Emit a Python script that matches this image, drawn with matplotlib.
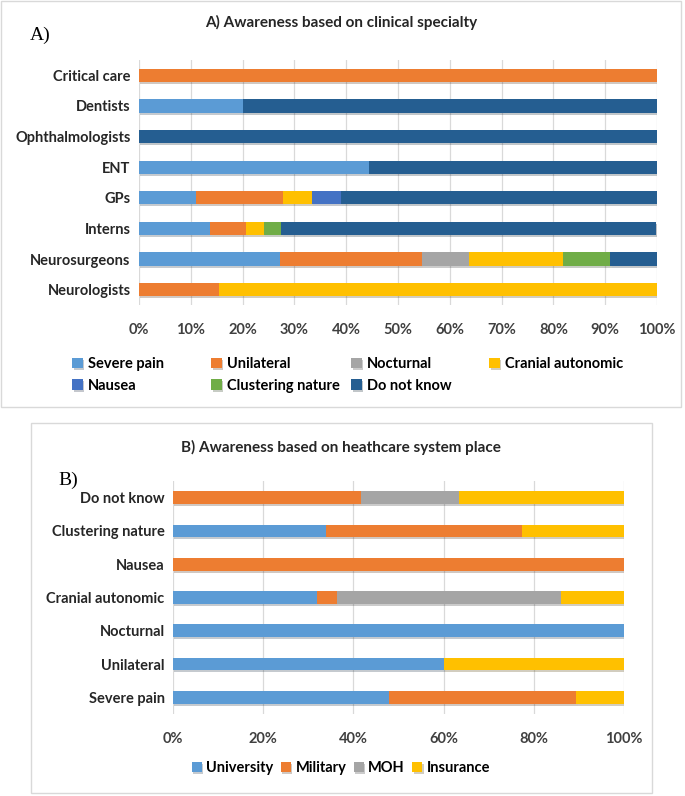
import matplotlib.pyplot as plt
import matplotlib.patheffects as pe
from matplotlib.patches import Rectangle
import numpy as np

plt.rcParams['font.family'] = ['Lato', 'DejaVu Sans']

# panel A data (bottom to top)
specialties = ['Neurologists', 'Neurosurgeons', 'Interns', 'GPs', 'ENT',
               'Ophthalmologists', 'Dentists', 'Critical care']
severe_pain = [0, 27.3, 13.8, 11.1, 44.4, 0, 20.0, 0]
unilateral = [15.4, 27.3, 6.9, 16.7, 0, 0, 0, 100]
nocturnal = [0, 9.1, 0, 0, 0, 0, 0, 0]
cranial = [84.6, 18.2, 3.4, 5.6, 0, 0, 0, 0]
nausea = [0, 0, 0, 5.6, 0, 0, 0, 0]
clustering = [0, 9.1, 3.4, 0, 0, 0, 0, 0]
do_not_know = [0, 9.1, 72.4, 61.1, 55.6, 100, 80.0, 0]

# panel B data (bottom to top)
features = ['Severe pain', 'Unilateral', 'Nocturnal', 'Cranial autonomic',
            'Nausea', 'Clustering nature', 'Do not know']
university = [48.0, 60.0, 100, 32.0, 0, 34.0, 0]
military = [41.4, 0, 0, 4.3, 100, 43.4, 41.7]
moh = [0, 0, 0, 49.7, 0, 0, 21.7]
insurance = [10.6, 40.0, 0, 14.0, 0, 22.6, 36.6]

series_a = [('Severe pain', severe_pain, '#5B9BD5'),
            ('Unilateral', unilateral, '#ED7D31'),
            ('Nocturnal', nocturnal, '#A5A5A5'),
            ('Cranial autonomic', cranial, '#FFC000'),
            ('Nausea', nausea, '#4472C4'),
            ('Clustering nature', clustering, '#70AD47'),
            ('Do not know', do_not_know, '#255E91')]
series_b = [('University', university, '#5B9BD5'),
            ('Military', military, '#ED7D31'),
            ('MOH', moh, '#A5A5A5'),
            ('Insurance', insurance, '#FFC000')]

W, H = 685, 796
fig = plt.figure(figsize=(W / 100, H / 100), dpi=100)
FS = 10.5

# panel borders
fig.patches.append(Rectangle((1 / W, 1 - 407 / H), 680 / W, 406 / H,
                             transform=fig.transFigure, fill=False,
                             ec='#D9D9D9', lw=1))
fig.patches.append(Rectangle((31 / W, 1 - 793 / H), 621 / W, 370 / H,
                             transform=fig.transFigure, fill=False,
                             ec='#D9D9D9', lw=1))

shadow = [pe.SimplePatchShadow(offset=(1, -1.5), alpha=0.25), pe.Normal()]


def stacked(ax, cats, series, height, step):
    y = np.arange(len(cats))
    left = np.zeros(len(cats))
    handles = []
    for name, vals, col in series:
        vals = np.array(vals, dtype=float)
        b = ax.barh(y, vals, left=left, height=height, color=col, label=name,
                    path_effects=shadow, zorder=3)
        handles.append(b)
        left += vals
    ax.set_yticks(y)
    ax.set_yticklabels(cats, fontsize=FS, fontweight='bold', color='#262626')
    ax.set_xlim(0, 100)
    ax.set_ylim(-0.5, len(cats) - 0.5)
    ticks = np.arange(0, 101, step)
    ax.set_xticks(ticks)
    ax.set_xticklabels([f'{t}%' for t in ticks], fontsize=FS,
                       fontweight='bold', color='#404040')
    ax.grid(axis='x', color='#D9D9D9', lw=0.9, zorder=0)
    for s in ax.spines.values():
        s.set_visible(False)
    ax.tick_params(length=0, pad=6)
    ax.tick_params(axis='x', pad=13)
    return handles


ax1 = fig.add_axes([139 / W, 1 - 305 / H, 518 / W, 245 / H])
h1 = stacked(ax1, specialties, series_a, 0.43, 10)
ax2 = fig.add_axes([173 / W, 1 - 714 / H, 451 / W, 233 / H])
h2 = stacked(ax2, features, series_b, 0.38, 20)

fig.text(341 / W, 1 - 22 / H, 'A) Awareness based on clinical specialty',
         ha='center', va='center', fontsize=11, fontweight='bold', color='#262626')
fig.text(341 / W, 1 - 447 / H, 'B) Awareness based on heathcare system place',
         ha='center', va='center', fontsize=11, fontweight='bold', color='#262626')
fig.text(30 / W, 1 - 35 / H, 'A)', ha='left', va='center', fontsize=14,
         family=['Liberation Serif', 'DejaVu Serif'])
fig.text(58 / W, 1 - 480 / H, 'B)', ha='left', va='center', fontsize=14,
         family=['Liberation Serif', 'DejaVu Serif'])

# panel A legend: one small legend per column so the columns sit where they do
col_x = [65, 204, 344, 482]
columns = [[0, 4], [1, 5], [2, 6], [3]]
for cx, idx in zip(col_x, columns):
    fig.legend([h1[i] for i in idx], [series_a[i][0] for i in idx],
               loc='upper left', bbox_to_anchor=(cx / W, 1 - 350 / H),
               ncol=1, frameon=False, handlelength=0.7, handleheight=0.7,
               handletextpad=0.4, labelspacing=0.5, borderpad=0,
               prop={'weight': 'bold', 'size': FS})
fig.legend(h2, [s[0] for s in series_b], loc='center',
           bbox_to_anchor=(341 / W, 1 - 768 / H), ncol=4, frameon=False,
           handlelength=0.7, handleheight=0.7, handletextpad=0.3,
           columnspacing=0.5, prop={'weight': 'bold', 'size': FS})

fig.savefig('out.png', dpi=100)
